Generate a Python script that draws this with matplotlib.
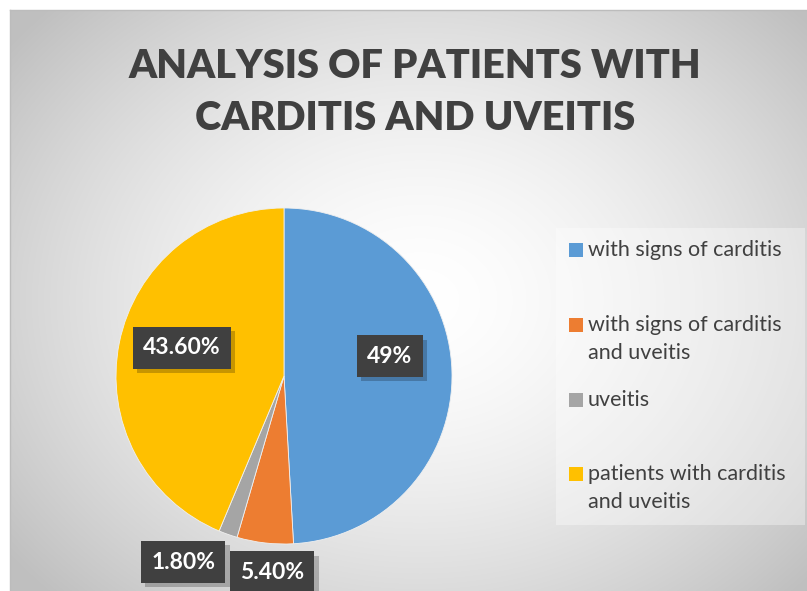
import numpy as np
import matplotlib
matplotlib.use('agg')
import matplotlib.pyplot as plt
import matplotlib.patheffects as pe
from matplotlib.patches import Rectangle

# data
labels = ['with signs of carditis', 'with signs of carditis\nand uveitis',
          'uveitis', 'patients with carditis\nand uveitis']
values = [49, 5.4, 1.8, 43.6]
pct_text = ['49%', '5.40%', '1.80%', '43.60%']
colors = ['#5B9BD5', '#ED7D31', '#A5A5A5', '#FFC000']

W, H = 807, 591
fig = plt.figure(figsize=(W / 100, H / 100), dpi=100)

# background with radial gradient (chart area starts ~10px in)
bg = fig.add_axes([0, 0, 1, 1])
bg.set_xlim(0, W)
bg.set_ylim(H, 0)
bg.axis('off')
yy, xx = np.mgrid[0:H, 0:W]
d = np.sqrt(((xx - 420) / 520.0) ** 2 + ((yy - 300) / 420.0) ** 2)
shade = 1.0 - 0.25 * np.clip(d, 0, 1) ** 1.6
img = np.dstack([shade, shade, shade])
img[:10, :, :] = 1.0
img[:, :10, :] = 1.0
bg.imshow(img, extent=[0, W, H, 0], aspect='auto', interpolation='bilinear')
bg.plot([10, W], [10, 10], color='#bcbcbc', lw=1)
bg.plot([10, 10], [10, H], color='#bcbcbc', lw=1)

# title
fig.text(415 / W, 1 - 93 / H, 'ANALYSIS OF PATIENTS WITH\nCARDITIS AND UVEITIS',
         ha='center', va='center', fontsize=28.6, fontweight='heavy',
         color='#404040', family='Lato', linespacing=1.5)

# pie
cx, cy, r = 284, 376, 168
ax = fig.add_axes([(cx - r) / W, (H - cy - r) / H, 2 * r / W, 2 * r / H])
wedges, _ = ax.pie(values, colors=colors, startangle=90, counterclock=False,
                   radius=1, wedgeprops=dict(linewidth=0.6, edgecolor='#f0f0f0'))
ax.set_xlim(-1, 1)
ax.set_ylim(-1, 1)
ax.set_aspect('equal')
ax.axis('off')

# data labels
dist = [0.64, 1.17, 1.26, 0.63]
shift = [9, 3, -9, -4]
for w, t, dd, sh in zip(wedges, pct_text, dist, shift):
    ang = np.deg2rad((w.theta1 + w.theta2) / 2 + sh)
    x, y = dd * np.cos(ang), dd * np.sin(ang)
    txt = ax.text(x, y, t, ha='center', va='center', fontsize=16.5, fontweight='bold',
                  color='white', family='Lato',
                  bbox=dict(boxstyle='square,pad=0.45', fc='#404040', ec='none'),
                  clip_on=False, zorder=5)
    txt.get_bbox_patch().set_path_effects(
        [pe.SimplePatchShadow(offset=(3, -3), shadow_rgbFace='black', alpha=0.22), pe.Normal()])

# legend
bg.add_patch(Rectangle((556, 228), 249, 297, fc='white', ec='none', alpha=0.35))
entry_y = [250, 325, 400, 474]
for lab, c, ey in zip(labels, colors, entry_y):
    bg.add_patch(Rectangle((569, ey - 7), 14, 14, fc=c, ec='none'))
    bg.text(588, ey - 10, lab, ha='left', va='top', fontsize=15.5,
            color='#404040', family='Lato', linespacing=1.5)

fig.savefig('out.png', dpi=100)
